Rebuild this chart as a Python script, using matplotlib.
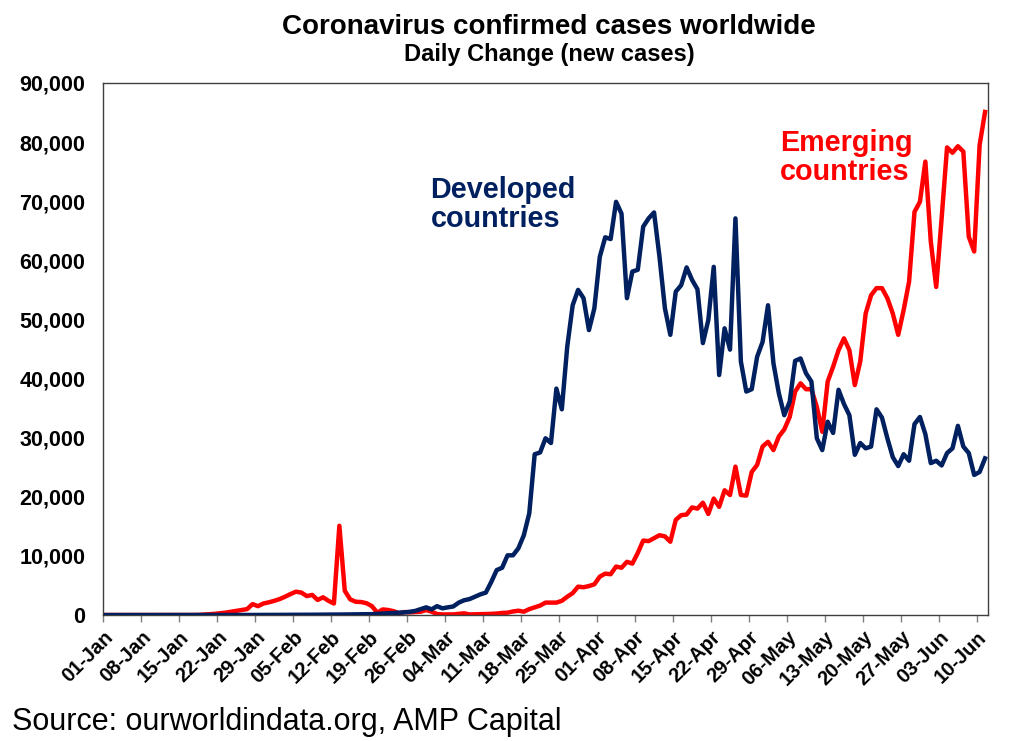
import numpy as np
import pandas as pd
import matplotlib
matplotlib.use("Agg")
import matplotlib.pyplot as plt
from matplotlib.ticker import FuncFormatter

plt.rcParams['font.family'] = ['Liberation Sans', 'DejaVu Sans']

# daily new cases from 01-Jan-2020
dates = pd.date_range("2020-01-01", periods=163, freq="D")

developed = [
    0, 0, 0, 0, 0, 0, 0, 0, 0, 0,
    0, 0, 0, 0, 0, 0, 0, 0, 0, 0,
    0, 0, 0, 0, 0, 10, 10, 10, 20, 20,
    20, 30, 30, 30, 40, 40, 40, 50, 50, 60,
    60, 70, 80, 80, 90, 100, 100, 110, 120, 150,
    200, 250, 300, 350, 400, 450, 550, 700, 1000, 1300,
    960, 1500, 1130, 1300, 1450, 2100, 2500, 2700, 3100, 3500,
    3800, 5600, 7600, 8000, 10100, 10100, 11300, 13500, 17200, 27200,
    27500, 29900, 29100, 38300, 34800, 45400, 52400, 55000, 53600, 48200,
    51900, 60600, 63900, 63600, 69900, 67900, 53600, 58100, 58400, 65700,
    67100, 68100, 60600, 51900, 47400, 54700, 55800, 58800, 56700, 55100,
    46000, 49900, 58900, 40600, 48500, 44900, 67100, 42900, 37800, 38200,
    43700, 46200, 52400, 42600, 37500, 33800, 36100, 43000, 43400, 40900,
    39500, 29900, 27900, 32700, 30800, 38100, 35700, 33800, 27100, 29100,
    28200, 28500, 34800, 33400, 29900, 26700, 25200, 27200, 26100, 32300,
    33500, 30600, 25700, 26100, 25300, 27400, 28200, 32000, 28500, 27400,
    23700, 24200, 26500,
]

emerging = [
    0, 0, 0, 0, 0, 0, 0, 0, 0, 0,
    0, 0, 0, 0, 0, 0, 10, 20, 80, 140,
    200, 300, 400, 550, 700, 850, 1000, 1850, 1500, 1950,
    2150, 2400, 2700, 3100, 3550, 3950, 3800, 3200, 3400, 2550,
    3000, 2400, 1950, 15100, 4100, 2650, 2250, 2200, 2000, 1500,
    400, 950, 850, 650, 300, 500, 450, 500, 560, 850,
    560, 170, 100, 100, 100, 200, 280, 100, 120, 150,
    170, 200, 250, 350, 400, 600, 730, 560, 1000, 1300,
    1600, 2100, 2100, 2100, 2400, 3100, 3700, 4800, 4700, 4900,
    5200, 6500, 7000, 6900, 8200, 8000, 9000, 8700, 10500, 12600,
    12500, 13000, 13500, 13300, 12400, 16100, 16900, 17000, 18200, 18000,
    19000, 17100, 19700, 18300, 21100, 20300, 25100, 20300, 20200, 24200,
    25400, 28500, 29300, 27900, 30200, 31400, 33500, 37800, 39200, 38200,
    38200, 35200, 31000, 39500, 42000, 44800, 46800, 44800, 38900, 42900,
    51000, 54100, 55300, 55300, 53600, 51000, 47400, 51600, 56400, 68200,
    69900, 76700, 63200, 55500, 67100, 79100, 78200, 79300, 78400, 64000,
    61500, 79500, 85100,
]

navy = "#002060"
red = "#FF0000"

fig = plt.figure(figsize=(10.24, 7.41), dpi=100)
ax = fig.add_axes([0.1009, 0.170, 0.8637, 0.718])

x = np.arange(len(dates))
ax.plot(x, developed, color=navy, lw=3.2, solid_joinstyle="round", zorder=3)
ax.plot(x, emerging, color=red, lw=3.2, solid_joinstyle="round", zorder=2)

ax.set_xlim(-0.5, len(dates) - 0.5)
ax.set_ylim(0, 90000)
ax.set_yticks(np.arange(0, 90001, 10000))
ax.yaxis.set_major_formatter(FuncFormatter(lambda v, p: f"{int(v):,}"))

tick_idx = np.arange(0, len(dates), 7)
ax.set_xticks(tick_idx - 0.5)
ax.set_xticklabels([dates[i].strftime("%d-%b") for i in tick_idx],
                   rotation=45, ha="right", rotation_mode="anchor")

ax.tick_params(axis="y", length=0, pad=13, labelsize=15.5)
ax.tick_params(axis="x", length=5, width=1, color="#7f7f7f", direction="out",
               pad=4, labelsize=14.5)
for lab in ax.get_xticklabels() + ax.get_yticklabels():
    lab.set_fontweight("bold")

for s in ax.spines.values():
    s.set_color("#404040")
    s.set_linewidth(1)

ax.text(0.37, 0.771, "Developed\ncountries", transform=ax.transAxes,
        color=navy, fontsize=20.7, fontweight="bold", linespacing=1.05,
        va="center", ha="left")
ax.text(0.765, 0.86, "Emerging\ncountries", transform=ax.transAxes,
        color=red, fontsize=20.7, fontweight="bold", linespacing=1.05,
        va="center", ha="left")

fig.text(0.536, 0.9636, "Coronavirus confirmed cases worldwide",
         ha="center", va="center", fontsize=20, fontweight="bold")
fig.text(0.536, 0.926, "Daily Change (new cases)",
         ha="center", va="center", fontsize=17, fontweight="bold")
fig.text(0.012, 0.026, "Source: ourworldindata.org, AMP Capital",
         ha="left", va="center", fontsize=22)

fig.savefig("out.png", dpi=100)
